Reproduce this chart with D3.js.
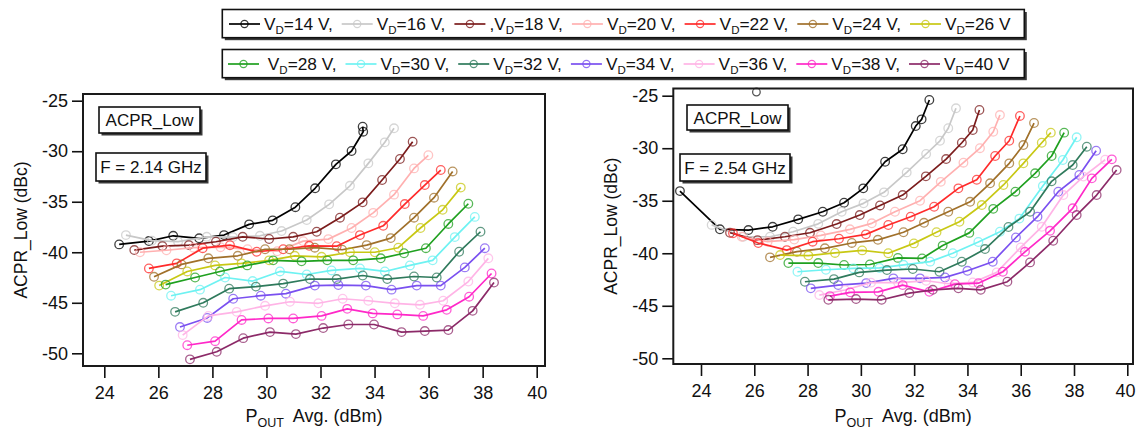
<!DOCTYPE html>
<html><head><meta charset="utf-8">
<script src="https://cdn.jsdelivr.net/npm/d3@7"></script>
<style>
html,body{margin:0;padding:0;background:#fff;}
svg{display:block;}
</style></head><body>
<svg id="chart" width="1136" height="429"></svg>
<script>
// Drain voltage of each trace and its colour
const drainVoltages = [14, 16, 18, 20, 22, 24, 26, 28, 30, 32, 34, 36, 38, 40];
const traceColors = ["#000000", "#c8c8c8", "#7b1c1c", "#ffb0b0", "#ff2a2a", "#a0702a", "#c8c814",
                     "#1fa01f", "#6ef2f2", "#2f7a5c", "#7a50f0", "#ffb4e6", "#ff28c8", "#8c2a68"];
// Legend text around "V_D=xx V"
const legendLead = ["", "", ",", "", "", "", "", "\u00a0", "", "", "", "", "", ""];
const legendTail = [",", ",", ",", ",", ",", ",", "", ",", ",", ",", ",", ",", ",", ""];

const xTickValues = [24, 26, 28, 30, 32, 34, 36, 38, 40];
const yTickValues = [-25, -30, -35, -40, -45, -50];

// ACPR_Low versus average output power at F = 2.14 GHz, [P_OUT (dBm), ACPR (dBc)]
const f214_vd14 = [[24.55,-39.22],[25.65,-38.89],[26.55,-38.37],[27.51,-38.62],[28.43,-38.30],[29.36,-37.24],[30.23,-36.84],[31.07,-35.54],[31.80,-33.67],[32.57,-31.30],[33.15,-29.98],[33.58,-28.07],[33.56,-27.57]];
const f214_vd16 = [[24.80,-38.30],[25.76,-38.85],[26.73,-38.95],[27.79,-38.47],[28.76,-38.50],[29.76,-38.37],[30.56,-37.90],[31.49,-36.81],[32.32,-35.26],[33.09,-33.42],[33.77,-31.20],[34.38,-29.12],[34.72,-27.73]];
const f214_vd18 = [[25.11,-39.78],[26.15,-39.39],[27.13,-39.29],[28.13,-38.96],[29.12,-38.47],[30.10,-38.69],[30.99,-38.47],[31.86,-37.97],[32.72,-36.58],[33.56,-35.06],[34.28,-32.85],[34.94,-30.77],[35.41,-29.06]];
const f214_vd20 = [[25.32,-40.00],[26.30,-39.80],[27.30,-39.55],[28.30,-39.50],[29.30,-39.70],[30.40,-39.90],[31.36,-38.90],[32.29,-38.70],[33.15,-37.60],[33.95,-36.10],[34.72,-34.30],[35.46,-31.70],[35.99,-30.40]];
const f214_vd22 = [[25.65,-41.60],[26.68,-41.10],[27.64,-39.60],[28.65,-39.30],[29.64,-39.95],[30.62,-39.70],[31.58,-39.36],[32.60,-39.40],[33.46,-38.30],[34.32,-37.38],[35.12,-35.23],[35.86,-33.35],[36.45,-31.86]];
const f214_vd24 = [[25.84,-42.43],[26.86,-41.20],[27.85,-40.60],[28.94,-40.35],[29.95,-39.70],[30.85,-39.70],[31.79,-39.55],[32.80,-39.75],[33.71,-39.29],[34.60,-38.60],[35.46,-36.58],[36.20,-34.60],[36.89,-32.00]];
const f214_vd26 = [[26.03,-43.30],[27.07,-41.90],[28.10,-41.30],[29.08,-41.10],[30.10,-40.80],[31.05,-40.35],[32.04,-40.45],[33.09,-40.00],[34.01,-40.00],[34.88,-39.55],[35.70,-37.60],[36.52,-35.80],[37.19,-33.60]];
const f214_vd28 = [[26.27,-43.20],[27.36,-42.50],[28.28,-41.90],[29.29,-41.30],[30.25,-40.80],[31.30,-40.90],[32.25,-40.80],[33.21,-40.80],[34.23,-40.60],[35.09,-40.10],[35.90,-39.60],[36.73,-37.20],[37.47,-35.20]];
const f214_vd30 = [[26.47,-44.30],[27.54,-43.70],[28.47,-42.50],[29.49,-42.85],[30.50,-41.90],[31.49,-42.20],[32.41,-41.80],[33.46,-41.60],[34.38,-41.90],[35.31,-41.30],[36.15,-40.80],[36.97,-38.50],[37.71,-36.50]];
const f214_vd32 = [[26.62,-45.90],[27.66,-45.00],[28.62,-43.60],[29.61,-43.40],[30.62,-43.10],[31.61,-42.65],[32.60,-42.65],[33.56,-42.30],[34.47,-42.65],[35.46,-42.40],[36.30,-42.50],[37.13,-39.95],[37.92,-37.97]];
const f214_vd34 = [[26.80,-47.40],[27.81,-46.50],[28.77,-44.60],[29.79,-44.30],[30.72,-44.10],[31.79,-43.30],[32.66,-43.25],[33.68,-43.30],[34.63,-43.70],[35.56,-43.30],[36.45,-43.30],[37.34,-41.50],[38.08,-39.60]];
const f214_vd36 = [[26.90,-48.20],[27.85,-46.30],[28.90,-45.90],[29.95,-45.30],[30.87,-44.90],[31.92,-45.05],[32.82,-44.60],[33.77,-44.80],[34.75,-45.05],[35.68,-45.20],[36.54,-44.80],[37.47,-42.90],[38.21,-40.60]];
const f214_vd38 = [[27.07,-49.20],[28.10,-48.80],[29.08,-46.70],[30.07,-46.55],[30.99,-46.55],[32.04,-46.30],[32.99,-45.60],[33.93,-46.05],[34.84,-46.15],[35.80,-46.30],[36.67,-45.70],[37.50,-44.40],[38.33,-42.10]];
const f214_vd40 = [[27.17,-50.60],[28.16,-49.85],[29.14,-48.50],[30.13,-47.90],[31.09,-48.10],[32.10,-47.50],[33.03,-47.15],[33.98,-47.15],[35.00,-47.90],[35.86,-47.80],[36.73,-47.70],[37.63,-45.80],[38.42,-43.00]];

// ACPR_Low versus average output power at F = 2.54 GHz, [P_OUT (dBm), ACPR (dBc)]
const f254_vd14 = [[23.21,-34.08],[24.71,-37.72],[25.78,-37.79],[26.69,-37.48],[27.65,-36.77],[28.57,-36.05],[29.37,-35.19],[30.09,-33.82],[30.91,-31.29],[31.57,-30.10],[32.06,-27.89],[32.28,-27.25],[32.57,-25.41]];
const f254_vd16 = [[24.40,-37.30],[25.59,-38.43],[26.59,-38.43],[27.46,-37.95],[28.40,-37.20],[29.28,-36.05],[30.10,-35.25],[30.87,-34.20],[31.72,-32.30],[32.45,-30.55],[32.97,-29.29],[33.28,-28.10],[33.57,-26.20]];
const f254_vd18 = [[25.09,-38.05],[26.12,-38.75],[27.15,-38.43],[28.09,-38.05],[29.09,-37.22],[29.96,-36.36],[30.72,-35.45],[31.57,-34.46],[32.44,-32.68],[33.20,-31.03],[33.79,-29.48],[34.20,-28.27],[34.45,-26.36]];
const f254_vd20 = [[25.53,-38.43],[26.50,-38.90],[27.50,-38.70],[28.50,-38.30],[29.59,-37.72],[30.41,-37.15],[31.28,-36.05],[32.22,-35.00],[33.00,-33.20],[33.85,-31.38],[34.47,-30.00],[34.97,-28.43],[35.22,-26.84]];
const f254_vd22 = [[25.20,-38.10],[26.15,-39.03],[27.22,-39.70],[28.19,-38.90],[29.18,-38.62],[30.19,-38.20],[31.03,-37.31],[31.87,-36.52],[32.75,-35.57],[33.66,-33.82],[34.35,-33.00],[35.04,-30.74],[35.57,-29.29],[35.97,-26.93]];
const f254_vd24 = [[26.59,-40.39],[27.60,-39.85],[28.65,-39.53],[29.66,-39.02],[30.64,-38.72],[31.60,-38.00],[32.37,-37.10],[33.28,-36.05],[34.10,-35.10],[34.85,-33.34],[35.57,-31.44],[36.10,-29.70],[36.50,-27.60]];
const f254_vd26 = [[26.97,-40.17],[28.03,-40.22],[29.03,-39.97],[30.05,-39.73],[31.03,-40.00],[31.99,-39.06],[32.84,-38.00],[33.70,-37.00],[34.54,-35.41],[35.35,-33.50],[36.10,-31.44],[36.79,-29.48],[37.13,-28.52]];
const f254_vd28 = [[27.28,-40.93],[28.40,-40.93],[29.37,-41.12],[30.34,-41.07],[31.39,-40.44],[32.30,-40.49],[33.07,-39.27],[34.07,-38.06],[34.97,-35.77],[35.80,-34.14],[36.54,-32.39],[37.16,-30.74],[37.63,-28.52]];
const f254_vd30 = [[27.62,-41.76],[28.69,-41.57],[29.72,-41.44],[30.70,-41.40],[31.60,-41.10],[32.60,-40.80],[33.45,-40.00],[34.41,-38.93],[35.22,-37.95],[35.95,-36.70],[36.83,-33.60],[37.58,-31.12],[38.10,-28.96]];
const f254_vd32 = [[27.90,-42.71],[28.99,-42.46],[29.94,-41.82],[30.98,-41.60],[31.95,-41.50],[32.95,-41.76],[33.79,-40.81],[34.66,-39.60],[35.54,-37.50],[36.35,-36.05],[37.16,-33.15],[37.95,-31.60],[38.48,-29.86]];
const f254_vd34 = [[28.12,-43.34],[29.15,-43.03],[30.20,-42.84],[31.22,-42.39],[32.22,-42.39],[33.16,-42.30],[34.00,-41.67],[34.95,-40.81],[35.82,-38.50],[36.63,-36.52],[37.41,-34.14],[38.20,-32.55],[38.83,-30.24]];
const f254_vd36 = [[28.44,-43.98],[29.40,-43.50],[30.38,-42.80],[31.40,-42.80],[32.45,-42.62],[33.30,-42.90],[34.20,-42.78],[35.10,-41.82],[36.00,-39.44],[36.79,-37.48],[37.60,-34.46],[38.35,-32.70],[39.17,-31.10]];
const f254_vd38 = [[28.84,-44.08],[29.60,-43.72],[30.66,-43.67],[31.57,-43.03],[32.57,-43.67],[33.53,-42.94],[34.41,-42.85],[35.33,-41.76],[36.16,-39.86],[37.10,-37.86],[37.95,-35.72],[38.67,-32.87],[39.42,-31.06]];
const f254_vd40 = [[28.78,-44.43],[29.82,-44.36],[30.78,-44.43],[31.82,-43.79],[32.70,-43.48],[33.66,-43.34],[34.50,-43.48],[35.50,-42.71],[36.35,-40.87],[37.22,-38.81],[38.10,-36.36],[38.85,-34.46],[39.60,-32.08]];
// Lone marker at the top edge of the 2.54 GHz panel
const f254_lone = [[26.08,-24.65]];

const f214Series = [f214_vd14, f214_vd16, f214_vd18, f214_vd20, f214_vd22, f214_vd24, f214_vd26,
                    f214_vd28, f214_vd30, f214_vd32, f214_vd34, f214_vd36, f214_vd38, f214_vd40];
const f254Series = [f254_vd14, f254_vd16, f254_vd18, f254_vd20, f254_vd22, f254_vd24, f254_vd26,
                    f254_vd28, f254_vd30, f254_vd32, f254_vd34, f254_vd36, f254_vd38, f254_vd40];

const FONT = "'Liberation Sans', Arial, Helvetica, sans-serif";
const WIDTH = 1136;
const svg = d3.select("#chart").attr("font-family", FONT);

// Box with a small drop shadow, used for the legend and the panel labels
function shadowBox(g, x, y, w, h) {
  g.append("rect").attr("x", x + 2.5).attr("y", y + 2.5).attr("width", w).attr("height", h)
    .attr("fill", "#3a3a3a");
  g.append("rect").attr("x", x).attr("y", y).attr("width", w).attr("height", h)
    .attr("fill", "#fff").attr("stroke", "#111").attr("stroke-width", 1.6);
}

function labelBox(g, b, text) {
  shadowBox(g, b.x, b.y, b.w, b.h);
  g.append("text").attr("x", b.x + b.w / 2).attr("y", b.y + b.h / 2 + 6)
    .attr("text-anchor", "middle").attr("font-size", 17).attr("fill", "#111").text(text);
}

const panels = [
  { series: f214Series, lone: [], xr: [104.3, 536.7], yr: [100.7, 353.3],
    frame: { x0: 83, y0: 94, x1: 545, y1: 366 },
    boxA: { x: 99, y: 107, w: 101, h: 26 }, boxF: { x: 96, y: 153, w: 110, h: 28 },
    freq: "F = 2.14 GHz", ytitleX: 27 },
  { series: f254Series, lone: f254_lone, xr: [701, 1127.3], yr: [95.7, 358.3],
    frame: { x0: 673.3, y0: 88.5, x1: 1133, y1: 364 },
    boxA: { x: 687, y: 105, w: 101, h: 25 }, boxF: { x: 680, y: 154, w: 110, h: 27 },
    freq: "F = 2.54 GHz", ytitleX: 616.5 }
];

panels.forEach(p => {
  const x = d3.scaleLinear().domain([24, 40]).range(p.xr);
  const y = d3.scaleLinear().domain([-25, -50]).range(p.yr);
  const f = p.frame;
  const g = svg.append("g");

  // bottom axis, ticks hanging below the frame
  const xa = g.append("g").attr("transform", `translate(0,${f.y1})`)
    .call(d3.axisBottom(x).tickValues(xTickValues).tickSize(12).tickPadding(8).tickSizeOuter(0)
      .tickFormat(d => String(d)));
  xa.select(".domain").remove();
  xa.attr("font-family", FONT).attr("font-size", 18);
  xa.selectAll("line").attr("stroke", "#111").attr("stroke-width", 1.6);
  xa.selectAll("text").attr("fill", "#111").each(function (d) {
    // keep the last label inside the page
    const b = this.getBBox();
    const right = x(d) + b.x + b.width;
    if (right > WIDTH - 1) d3.select(this).attr("x", WIDTH - 1 - right);
  });

  // left axis
  const ya = g.append("g").attr("transform", `translate(${f.x0},0)`)
    .call(d3.axisLeft(y).tickValues(yTickValues).tickSize(11).tickPadding(4).tickSizeOuter(0)
      .tickFormat(d => String(d)));
  ya.select(".domain").remove();
  ya.attr("font-family", FONT).attr("font-size", 18);
  ya.selectAll("line").attr("stroke", "#111").attr("stroke-width", 1.6);
  ya.selectAll("text").attr("fill", "#111");

  // traces
  const line = d3.line().x(d => x(d[0])).y(d => y(d[1]));
  p.series.forEach((s, i) => {
    const c = traceColors[i];
    g.append("path").datum(s).attr("d", line).attr("fill", "none")
      .attr("stroke", c).attr("stroke-width", 1.7).attr("stroke-linejoin", "round");
    g.append("g").selectAll("circle").data(s).join("circle")
      .attr("cx", d => x(d[0])).attr("cy", d => y(d[1])).attr("r", 4.3)
      .attr("fill", "none").attr("stroke", c).attr("stroke-width", 1.3).attr("stroke-opacity", 0.75);
  });
  g.append("g").selectAll("circle").data(p.lone).join("circle")
    .attr("cx", d => x(d[0])).attr("cy", d => y(d[1])).attr("r", 3.8)
    .attr("fill", "none").attr("stroke", "#555").attr("stroke-width", 1.3);

  // frame
  g.append("rect").attr("x", f.x0).attr("y", f.y0).attr("width", f.x1 - f.x0).attr("height", f.y1 - f.y0)
    .attr("fill", "none").attr("stroke", "#1a1a1a").attr("stroke-width", 2);

  // panel labels
  labelBox(g, p.boxA, "ACPR_Low");
  labelBox(g, p.boxF, p.freq);

  // axis titles
  const cx = (f.x0 + f.x1) / 2;
  const xt = g.append("text").attr("x", cx).attr("y", 421.5).attr("text-anchor", "middle")
    .attr("font-size", 18).attr("fill", "#111").style("white-space", "pre");
  xt.append("tspan").text("P");
  xt.append("tspan").attr("font-size", 12.5).attr("dy", 5).text("OUT");
  xt.append("tspan").attr("dy", -5).text("  Avg. (dBm)");

  g.append("text").attr("transform", `translate(${p.ytitleX},${(f.y0 + f.y1) / 2}) rotate(-90)`)
    .attr("text-anchor", "middle").attr("font-size", 17.5).attr("fill", "#111").text("ACPR_Low (dBc)");
});

// Legend: two boxed rows of seven drain voltages
const legendRows = [
  { idx: [0, 1, 2, 3, 4, 5, 6], y: 9.5, x0: 229 },
  { idx: [7, 8, 9, 10, 11, 12, 13], y: 49.5, x0: 228 }
];
const lg = svg.append("g");
legendRows.forEach(r => {
  shadowBox(lg, 222.3, r.y, 802, 28.2);
  const cy = r.y + 14.5;
  let xp = r.x0;
  r.idx.forEach(i => {
    const c = traceColors[i];
    lg.append("line").attr("x1", xp).attr("x2", xp + 31).attr("y1", cy).attr("y2", cy)
      .attr("stroke", c).attr("stroke-width", 1.7);
    lg.append("circle").attr("cx", xp + 15.5).attr("cy", cy).attr("r", 3.6)
      .attr("fill", "none").attr("stroke", c).attr("stroke-width", 1.2).attr("stroke-opacity", 0.8);
    const t = lg.append("text").attr("x", xp + 35).attr("y", cy + 6).attr("font-size", 17.3)
      .attr("fill", "#111").style("white-space", "pre");
    t.append("tspan").text(legendLead[i] + "V");
    t.append("tspan").attr("font-size", 11.5).attr("dy", 4).text("D");
    t.append("tspan").attr("dy", -4).text("=" + drainVoltages[i] + " V" + legendTail[i]);
    xp = xp + 35 + t.node().getComputedTextLength() + 9;
  });
});
</script>
</body></html>
